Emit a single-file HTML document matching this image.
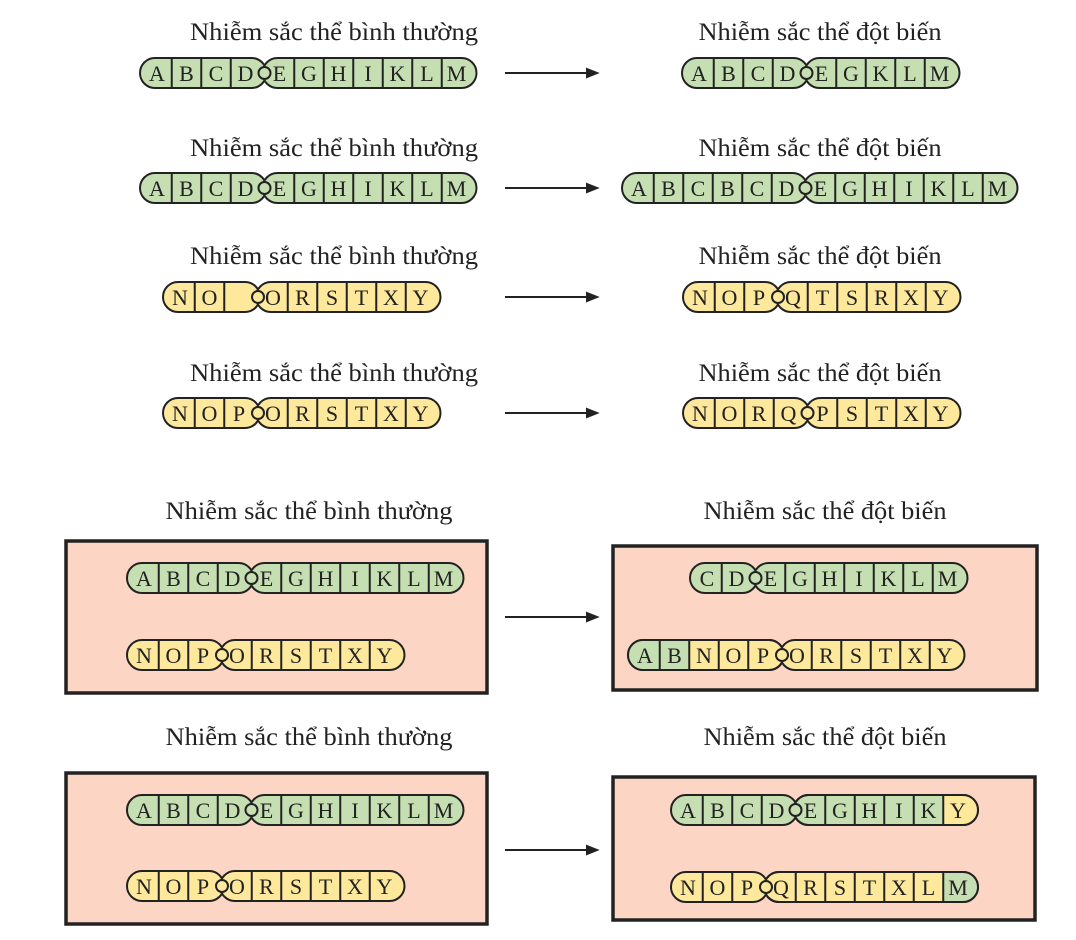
<!DOCTYPE html>
<html><head><meta charset="utf-8"><style>
html,body{margin:0;padding:0;background:#fff}
svg{display:block}
text{font-family:"Liberation Serif",serif;fill:#222}
.t{font-size:25px;text-anchor:middle}
.l{font-size:22px;text-anchor:middle}
.g{fill:#c6dfb2;stroke:#222;stroke-width:2}
.y{fill:#fde89b;stroke:#222;stroke-width:2}
.gn{fill:#c6dfb2}
.yn{fill:#fde89b}
.d{stroke:#222;stroke-width:2}
.box{fill:#fcd5c4;stroke:#222;stroke-width:3.5}
</style></head><body>
<svg width="1076" height="940" viewBox="0 0 1076 940" xmlns="http://www.w3.org/2000/svg">
<!-- titles -->
<text class="t" x="334" y="40" textLength="288" lengthAdjust="spacingAndGlyphs">Nhiễm sắc thể bình thường</text>
<text class="t" x="820" y="40" textLength="243" lengthAdjust="spacingAndGlyphs">Nhiễm sắc thể đột biến</text>
<text class="t" x="334" y="156" textLength="288" lengthAdjust="spacingAndGlyphs">Nhiễm sắc thể bình thường</text>
<text class="t" x="820" y="156" textLength="243" lengthAdjust="spacingAndGlyphs">Nhiễm sắc thể đột biến</text>
<text class="t" x="334" y="264" textLength="288" lengthAdjust="spacingAndGlyphs">Nhiễm sắc thể bình thường</text>
<text class="t" x="820" y="264" textLength="243" lengthAdjust="spacingAndGlyphs">Nhiễm sắc thể đột biến</text>
<text class="t" x="334" y="381" textLength="288" lengthAdjust="spacingAndGlyphs">Nhiễm sắc thể bình thường</text>
<text class="t" x="820" y="381" textLength="243" lengthAdjust="spacingAndGlyphs">Nhiễm sắc thể đột biến</text>
<text class="t" x="309" y="519" textLength="287" lengthAdjust="spacingAndGlyphs">Nhiễm sắc thể bình thường</text>
<text class="t" x="825" y="519" textLength="243" lengthAdjust="spacingAndGlyphs">Nhiễm sắc thể đột biến</text>
<text class="t" x="309" y="745" textLength="287" lengthAdjust="spacingAndGlyphs">Nhiễm sắc thể bình thường</text>
<text class="t" x="825" y="745" textLength="243" lengthAdjust="spacingAndGlyphs">Nhiễm sắc thể đột biến</text>

<!-- boxes -->
<rect class="box" x="66" y="541" width="421" height="152"/>
<rect class="box" x="613" y="546" width="424" height="144"/>
<rect class="box" x="66" y="773" width="421" height="151"/>
<rect class="box" x="613" y="777" width="422" height="143"/>

<!-- arrows -->
<g stroke="#222" stroke-width="2" fill="#222">
<line x1="505" y1="73" x2="590" y2="73"/><polygon points="587,69 597,73 587,77"/>
<line x1="505" y1="188" x2="590" y2="188"/><polygon points="587,184 597,188 587,192"/>
<line x1="505" y1="297" x2="590" y2="297"/><polygon points="587,293 597,297 587,301"/>
<line x1="505" y1="413" x2="590" y2="413"/><polygon points="587,409 597,413 587,417"/>
<line x1="505" y1="617" x2="590" y2="617"/><polygon points="587,613 597,617 587,621"/>
<line x1="505" y1="850" x2="590" y2="850"/><polygon points="587,846 597,850 587,854"/>
</g>

<!-- Chromosome type A: ABCD|EGHIKLM -->
<g transform="translate(140,73)">
<rect class="g" x="0" y="-15" width="126.5" height="30" rx="15"/>
<rect class="g" x="122.5" y="-15" width="214" height="30" rx="15"/>
<g class="d"><line x1="31.75" y1="-15" x2="31.75" y2="15"/><line x1="61.25" y1="-15" x2="61.25" y2="15"/><line x1="90.75" y1="-15" x2="90.75" y2="15"/><line x1="154.25" y1="-15" x2="154.25" y2="15"/><line x1="183.75" y1="-15" x2="183.75" y2="15"/><line x1="213.25" y1="-15" x2="213.25" y2="15"/><line x1="242.75" y1="-15" x2="242.75" y2="15"/><line x1="272.25" y1="-15" x2="272.25" y2="15"/><line x1="301.75" y1="-15" x2="301.75" y2="15"/></g>
<circle class="g" cx="124.5" cy="0" r="6"/>
<text class="l" x="17" y="8">A</text><text class="l" x="46.5" y="8">B</text><text class="l" x="76" y="8">C</text><text class="l" x="105.5" y="8">D</text><text class="l" x="139.5" y="8">E</text><text class="l" x="169" y="8">G</text><text class="l" x="198.5" y="8">H</text><text class="l" x="228" y="8">I</text><text class="l" x="257.5" y="8">K</text><text class="l" x="287" y="8">L</text><text class="l" x="316.5" y="8">M</text>
</g>
<g transform="translate(140,188)">
<rect class="g" x="0" y="-15" width="126.5" height="30" rx="15"/>
<rect class="g" x="122.5" y="-15" width="214" height="30" rx="15"/>
<g class="d"><line x1="31.75" y1="-15" x2="31.75" y2="15"/><line x1="61.25" y1="-15" x2="61.25" y2="15"/><line x1="90.75" y1="-15" x2="90.75" y2="15"/><line x1="154.25" y1="-15" x2="154.25" y2="15"/><line x1="183.75" y1="-15" x2="183.75" y2="15"/><line x1="213.25" y1="-15" x2="213.25" y2="15"/><line x1="242.75" y1="-15" x2="242.75" y2="15"/><line x1="272.25" y1="-15" x2="272.25" y2="15"/><line x1="301.75" y1="-15" x2="301.75" y2="15"/></g>
<circle class="g" cx="124.5" cy="0" r="6"/>
<text class="l" x="17" y="8">A</text><text class="l" x="46.5" y="8">B</text><text class="l" x="76" y="8">C</text><text class="l" x="105.5" y="8">D</text><text class="l" x="139.5" y="8">E</text><text class="l" x="169" y="8">G</text><text class="l" x="198.5" y="8">H</text><text class="l" x="228" y="8">I</text><text class="l" x="257.5" y="8">K</text><text class="l" x="287" y="8">L</text><text class="l" x="316.5" y="8">M</text>
</g>
<g transform="translate(127,578)">
<rect class="g" x="0" y="-15" width="126.5" height="30" rx="15"/>
<rect class="g" x="122.5" y="-15" width="214" height="30" rx="15"/>
<g class="d"><line x1="31.75" y1="-15" x2="31.75" y2="15"/><line x1="61.25" y1="-15" x2="61.25" y2="15"/><line x1="90.75" y1="-15" x2="90.75" y2="15"/><line x1="154.25" y1="-15" x2="154.25" y2="15"/><line x1="183.75" y1="-15" x2="183.75" y2="15"/><line x1="213.25" y1="-15" x2="213.25" y2="15"/><line x1="242.75" y1="-15" x2="242.75" y2="15"/><line x1="272.25" y1="-15" x2="272.25" y2="15"/><line x1="301.75" y1="-15" x2="301.75" y2="15"/></g>
<circle class="g" cx="124.5" cy="0" r="6"/>
<text class="l" x="17" y="8">A</text><text class="l" x="46.5" y="8">B</text><text class="l" x="76" y="8">C</text><text class="l" x="105.5" y="8">D</text><text class="l" x="139.5" y="8">E</text><text class="l" x="169" y="8">G</text><text class="l" x="198.5" y="8">H</text><text class="l" x="228" y="8">I</text><text class="l" x="257.5" y="8">K</text><text class="l" x="287" y="8">L</text><text class="l" x="316.5" y="8">M</text>
</g>
<g transform="translate(127,810)">
<rect class="g" x="0" y="-15" width="126.5" height="30" rx="15"/>
<rect class="g" x="122.5" y="-15" width="214" height="30" rx="15"/>
<g class="d"><line x1="31.75" y1="-15" x2="31.75" y2="15"/><line x1="61.25" y1="-15" x2="61.25" y2="15"/><line x1="90.75" y1="-15" x2="90.75" y2="15"/><line x1="154.25" y1="-15" x2="154.25" y2="15"/><line x1="183.75" y1="-15" x2="183.75" y2="15"/><line x1="213.25" y1="-15" x2="213.25" y2="15"/><line x1="242.75" y1="-15" x2="242.75" y2="15"/><line x1="272.25" y1="-15" x2="272.25" y2="15"/><line x1="301.75" y1="-15" x2="301.75" y2="15"/></g>
<circle class="g" cx="124.5" cy="0" r="6"/>
<text class="l" x="17" y="8">A</text><text class="l" x="46.5" y="8">B</text><text class="l" x="76" y="8">C</text><text class="l" x="105.5" y="8">D</text><text class="l" x="139.5" y="8">E</text><text class="l" x="169" y="8">G</text><text class="l" x="198.5" y="8">H</text><text class="l" x="228" y="8">I</text><text class="l" x="257.5" y="8">K</text><text class="l" x="287" y="8">L</text><text class="l" x="316.5" y="8">M</text>
</g>

<!-- Row1 right: ABCD|EGKLM -->
<g transform="translate(682,73)">
<rect class="g" x="0" y="-15" width="126.5" height="30" rx="15"/>
<rect class="g" x="122.5" y="-15" width="155" height="30" rx="15"/>
<g class="d"><line x1="31.75" y1="-15" x2="31.75" y2="15"/><line x1="61.25" y1="-15" x2="61.25" y2="15"/><line x1="90.75" y1="-15" x2="90.75" y2="15"/><line x1="154.25" y1="-15" x2="154.25" y2="15"/><line x1="183.75" y1="-15" x2="183.75" y2="15"/><line x1="213.25" y1="-15" x2="213.25" y2="15"/><line x1="242.75" y1="-15" x2="242.75" y2="15"/></g>
<circle class="g" cx="124.5" cy="0" r="6"/>
<text class="l" x="17" y="8">A</text><text class="l" x="46.5" y="8">B</text><text class="l" x="76" y="8">C</text><text class="l" x="105.5" y="8">D</text><text class="l" x="139.5" y="8">E</text><text class="l" x="169" y="8">G</text><text class="l" x="198.5" y="8">K</text><text class="l" x="228" y="8">L</text><text class="l" x="257.5" y="8">M</text>
</g>

<!-- Row2 right: ABCBCD|EGHIKLM -->
<g transform="translate(622,188)">
<rect class="g" x="0" y="-15" width="185.5" height="30" rx="15"/>
<rect class="g" x="181.5" y="-15" width="214" height="30" rx="15"/>
<g class="d"><line x1="31.75" y1="-15" x2="31.75" y2="15"/><line x1="61.25" y1="-15" x2="61.25" y2="15"/><line x1="90.75" y1="-15" x2="90.75" y2="15"/><line x1="120.25" y1="-15" x2="120.25" y2="15"/><line x1="149.75" y1="-15" x2="149.75" y2="15"/><line x1="213.25" y1="-15" x2="213.25" y2="15"/><line x1="242.75" y1="-15" x2="242.75" y2="15"/><line x1="272.25" y1="-15" x2="272.25" y2="15"/><line x1="301.75" y1="-15" x2="301.75" y2="15"/><line x1="331.25" y1="-15" x2="331.25" y2="15"/><line x1="360.75" y1="-15" x2="360.75" y2="15"/></g>
<circle class="g" cx="183.5" cy="0" r="6"/>
<text class="l" x="17" y="8">A</text><text class="l" x="46.5" y="8">B</text><text class="l" x="76" y="8">C</text><text class="l" x="105.5" y="8">B</text><text class="l" x="135" y="8">C</text><text class="l" x="164.5" y="8">D</text><text class="l" x="198.5" y="8">E</text><text class="l" x="228" y="8">G</text><text class="l" x="257.5" y="8">H</text><text class="l" x="287" y="8">I</text><text class="l" x="316.5" y="8">K</text><text class="l" x="346" y="8">L</text><text class="l" x="375.5" y="8">M</text>
</g>

<!-- Row3 left: NO_|ORSTXY -->
<g transform="translate(163,297)">
<rect class="y" x="0" y="-15" width="97" height="30" rx="15"/>
<rect class="y" x="93" y="-15" width="184.5" height="30" rx="15"/>
<g class="d"><line x1="31.75" y1="-15" x2="31.75" y2="15"/><line x1="61.25" y1="-15" x2="61.25" y2="15"/><line x1="124.75" y1="-15" x2="124.75" y2="15"/><line x1="154.25" y1="-15" x2="154.25" y2="15"/><line x1="183.75" y1="-15" x2="183.75" y2="15"/><line x1="213.25" y1="-15" x2="213.25" y2="15"/><line x1="242.75" y1="-15" x2="242.75" y2="15"/></g>
<circle class="y" cx="95" cy="0" r="6"/>
<text class="l" x="17" y="8">N</text><text class="l" x="46.5" y="8">O</text><text class="l" x="110" y="8">O</text><text class="l" x="139.5" y="8">R</text><text class="l" x="169" y="8">S</text><text class="l" x="198.5" y="8">T</text><text class="l" x="228" y="8">X</text><text class="l" x="257.5" y="8">Y</text>
</g>

<!-- Row3 right: NOP|QTSRXY -->
<g transform="translate(683,297)">
<rect class="y" x="0" y="-15" width="97" height="30" rx="15"/>
<rect class="y" x="93" y="-15" width="184.5" height="30" rx="15"/>
<g class="d"><line x1="31.75" y1="-15" x2="31.75" y2="15"/><line x1="61.25" y1="-15" x2="61.25" y2="15"/><line x1="124.75" y1="-15" x2="124.75" y2="15"/><line x1="154.25" y1="-15" x2="154.25" y2="15"/><line x1="183.75" y1="-15" x2="183.75" y2="15"/><line x1="213.25" y1="-15" x2="213.25" y2="15"/><line x1="242.75" y1="-15" x2="242.75" y2="15"/></g>
<circle class="y" cx="95" cy="0" r="6"/>
<text class="l" x="17" y="8">N</text><text class="l" x="46.5" y="8">O</text><text class="l" x="76" y="8">P</text><text class="l" x="110" y="8">Q</text><text class="l" x="139.5" y="8">T</text><text class="l" x="169" y="8">S</text><text class="l" x="198.5" y="8">R</text><text class="l" x="228" y="8">X</text><text class="l" x="257.5" y="8">Y</text>
</g>

<!-- NOP|ORSTXY copies -->
<g transform="translate(163,413)">
<rect class="y" x="0" y="-15" width="97" height="30" rx="15"/>
<rect class="y" x="93" y="-15" width="184.5" height="30" rx="15"/>
<g class="d"><line x1="31.75" y1="-15" x2="31.75" y2="15"/><line x1="61.25" y1="-15" x2="61.25" y2="15"/><line x1="124.75" y1="-15" x2="124.75" y2="15"/><line x1="154.25" y1="-15" x2="154.25" y2="15"/><line x1="183.75" y1="-15" x2="183.75" y2="15"/><line x1="213.25" y1="-15" x2="213.25" y2="15"/><line x1="242.75" y1="-15" x2="242.75" y2="15"/></g>
<circle class="y" cx="95" cy="0" r="6"/>
<text class="l" x="17" y="8">N</text><text class="l" x="46.5" y="8">O</text><text class="l" x="76" y="8">P</text><text class="l" x="110" y="8">O</text><text class="l" x="139.5" y="8">R</text><text class="l" x="169" y="8">S</text><text class="l" x="198.5" y="8">T</text><text class="l" x="228" y="8">X</text><text class="l" x="257.5" y="8">Y</text>
</g>
<g transform="translate(127,655)">
<rect class="y" x="0" y="-15" width="97" height="30" rx="15"/>
<rect class="y" x="93" y="-15" width="184.5" height="30" rx="15"/>
<g class="d"><line x1="31.75" y1="-15" x2="31.75" y2="15"/><line x1="61.25" y1="-15" x2="61.25" y2="15"/><line x1="124.75" y1="-15" x2="124.75" y2="15"/><line x1="154.25" y1="-15" x2="154.25" y2="15"/><line x1="183.75" y1="-15" x2="183.75" y2="15"/><line x1="213.25" y1="-15" x2="213.25" y2="15"/><line x1="242.75" y1="-15" x2="242.75" y2="15"/></g>
<circle class="y" cx="95" cy="0" r="6"/>
<text class="l" x="17" y="8">N</text><text class="l" x="46.5" y="8">O</text><text class="l" x="76" y="8">P</text><text class="l" x="110" y="8">O</text><text class="l" x="139.5" y="8">R</text><text class="l" x="169" y="8">S</text><text class="l" x="198.5" y="8">T</text><text class="l" x="228" y="8">X</text><text class="l" x="257.5" y="8">Y</text>
</g>
<g transform="translate(127,886)">
<rect class="y" x="0" y="-15" width="97" height="30" rx="15"/>
<rect class="y" x="93" y="-15" width="184.5" height="30" rx="15"/>
<g class="d"><line x1="31.75" y1="-15" x2="31.75" y2="15"/><line x1="61.25" y1="-15" x2="61.25" y2="15"/><line x1="124.75" y1="-15" x2="124.75" y2="15"/><line x1="154.25" y1="-15" x2="154.25" y2="15"/><line x1="183.75" y1="-15" x2="183.75" y2="15"/><line x1="213.25" y1="-15" x2="213.25" y2="15"/><line x1="242.75" y1="-15" x2="242.75" y2="15"/></g>
<circle class="y" cx="95" cy="0" r="6"/>
<text class="l" x="17" y="8">N</text><text class="l" x="46.5" y="8">O</text><text class="l" x="76" y="8">P</text><text class="l" x="110" y="8">O</text><text class="l" x="139.5" y="8">R</text><text class="l" x="169" y="8">S</text><text class="l" x="198.5" y="8">T</text><text class="l" x="228" y="8">X</text><text class="l" x="257.5" y="8">Y</text>
</g>

<!-- Row4 right: NORQ|PSTXY -->
<g transform="translate(683,413)">
<rect class="y" x="0" y="-15" width="126.5" height="30" rx="15"/>
<rect class="y" x="122.5" y="-15" width="155" height="30" rx="15"/>
<g class="d"><line x1="31.75" y1="-15" x2="31.75" y2="15"/><line x1="61.25" y1="-15" x2="61.25" y2="15"/><line x1="90.75" y1="-15" x2="90.75" y2="15"/><line x1="154.25" y1="-15" x2="154.25" y2="15"/><line x1="183.75" y1="-15" x2="183.75" y2="15"/><line x1="213.25" y1="-15" x2="213.25" y2="15"/><line x1="242.75" y1="-15" x2="242.75" y2="15"/></g>
<circle class="y" cx="124.5" cy="0" r="6"/>
<text class="l" x="17" y="8">N</text><text class="l" x="46.5" y="8">O</text><text class="l" x="76" y="8">R</text><text class="l" x="105.5" y="8">Q</text><text class="l" x="139.5" y="8">P</text><text class="l" x="169" y="8">S</text><text class="l" x="198.5" y="8">T</text><text class="l" x="228" y="8">X</text><text class="l" x="257.5" y="8">Y</text>
</g>

<!-- Box1 right top: CD|EGHIKLM -->
<g transform="translate(690,578)">
<rect class="g" x="0" y="-15" width="67.5" height="30" rx="15"/>
<rect class="g" x="63.5" y="-15" width="214" height="30" rx="15"/>
<g class="d"><line x1="31.75" y1="-15" x2="31.75" y2="15"/><line x1="95.25" y1="-15" x2="95.25" y2="15"/><line x1="124.75" y1="-15" x2="124.75" y2="15"/><line x1="154.25" y1="-15" x2="154.25" y2="15"/><line x1="183.75" y1="-15" x2="183.75" y2="15"/><line x1="213.25" y1="-15" x2="213.25" y2="15"/><line x1="242.75" y1="-15" x2="242.75" y2="15"/></g>
<circle class="g" cx="65.5" cy="0" r="6"/>
<text class="l" x="17" y="8">C</text><text class="l" x="46.5" y="8">D</text><text class="l" x="80.5" y="8">E</text><text class="l" x="110" y="8">G</text><text class="l" x="139.5" y="8">H</text><text class="l" x="169" y="8">I</text><text class="l" x="198.5" y="8">K</text><text class="l" x="228" y="8">L</text><text class="l" x="257.5" y="8">M</text>
</g>

<!-- Box1 right bottom: AB NOP|ORSTXY -->
<g transform="translate(628,655)">
<rect class="y" x="0" y="-15" width="156" height="30" rx="15"/>
<path class="gn" d="M61.25,-15 H15 A15,15 0 0 0 15,15 H61.25 Z"/>
<rect fill="none" stroke="#222" stroke-width="2" x="0" y="-15" width="156" height="30" rx="15"/>
<rect class="y" x="152" y="-15" width="184.5" height="30" rx="15"/>
<g class="d"><line x1="31.75" y1="-15" x2="31.75" y2="15"/><line x1="61.25" y1="-15" x2="61.25" y2="15"/><line x1="90.75" y1="-15" x2="90.75" y2="15"/><line x1="120.25" y1="-15" x2="120.25" y2="15"/><line x1="183.75" y1="-15" x2="183.75" y2="15"/><line x1="213.25" y1="-15" x2="213.25" y2="15"/><line x1="242.75" y1="-15" x2="242.75" y2="15"/><line x1="272.25" y1="-15" x2="272.25" y2="15"/><line x1="301.75" y1="-15" x2="301.75" y2="15"/></g>
<circle class="y" cx="154" cy="0" r="6"/>
<text class="l" x="17" y="8">A</text><text class="l" x="46.5" y="8">B</text><text class="l" x="76" y="8">N</text><text class="l" x="105.5" y="8">O</text><text class="l" x="135" y="8">P</text><text class="l" x="169" y="8">O</text><text class="l" x="198.5" y="8">R</text><text class="l" x="228" y="8">S</text><text class="l" x="257.5" y="8">T</text><text class="l" x="287" y="8">X</text><text class="l" x="316.5" y="8">Y</text>
</g>

<!-- Box2 right top: ABCD|EGHIKY -->
<g transform="translate(671,810)">
<rect class="g" x="0" y="-15" width="126.5" height="30" rx="15"/>
<rect class="g" x="122.5" y="-15" width="184.5" height="30" rx="15"/>
<path class="yn" d="M272.25,-15 H292 A15,15 0 0 1 292,15 H272.25 Z"/>
<rect fill="none" stroke="#222" stroke-width="2" x="122.5" y="-15" width="184.5" height="30" rx="15"/>
<g class="d"><line x1="31.75" y1="-15" x2="31.75" y2="15"/><line x1="61.25" y1="-15" x2="61.25" y2="15"/><line x1="90.75" y1="-15" x2="90.75" y2="15"/><line x1="154.25" y1="-15" x2="154.25" y2="15"/><line x1="183.75" y1="-15" x2="183.75" y2="15"/><line x1="213.25" y1="-15" x2="213.25" y2="15"/><line x1="242.75" y1="-15" x2="242.75" y2="15"/><line x1="272.25" y1="-15" x2="272.25" y2="15"/></g>
<circle class="g" cx="124.5" cy="0" r="6"/>
<text class="l" x="17" y="8">A</text><text class="l" x="46.5" y="8">B</text><text class="l" x="76" y="8">C</text><text class="l" x="105.5" y="8">D</text><text class="l" x="139.5" y="8">E</text><text class="l" x="169" y="8">G</text><text class="l" x="198.5" y="8">H</text><text class="l" x="228" y="8">I</text><text class="l" x="257.5" y="8">K</text><text class="l" x="287" y="8">Y</text>
</g>

<!-- Box2 right bottom: NOP|QRSTXLM -->
<g transform="translate(671,887)">
<rect class="y" x="0" y="-15" width="97" height="30" rx="15"/>
<rect class="y" x="93" y="-15" width="214" height="30" rx="15"/>
<path class="gn" d="M272.25,-15 H292 A15,15 0 0 1 292,15 H272.25 Z"/>
<rect fill="none" stroke="#222" stroke-width="2" x="93" y="-15" width="214" height="30" rx="15"/>
<g class="d"><line x1="31.75" y1="-15" x2="31.75" y2="15"/><line x1="61.25" y1="-15" x2="61.25" y2="15"/><line x1="124.75" y1="-15" x2="124.75" y2="15"/><line x1="154.25" y1="-15" x2="154.25" y2="15"/><line x1="183.75" y1="-15" x2="183.75" y2="15"/><line x1="213.25" y1="-15" x2="213.25" y2="15"/><line x1="242.75" y1="-15" x2="242.75" y2="15"/><line x1="272.25" y1="-15" x2="272.25" y2="15"/></g>
<circle class="y" cx="95" cy="0" r="6"/>
<text class="l" x="17" y="8">N</text><text class="l" x="46.5" y="8">O</text><text class="l" x="76" y="8">P</text><text class="l" x="110" y="8">Q</text><text class="l" x="139.5" y="8">R</text><text class="l" x="169" y="8">S</text><text class="l" x="198.5" y="8">T</text><text class="l" x="228" y="8">X</text><text class="l" x="257.5" y="8">L</text><text class="l" x="287" y="8">M</text>
</g>
</svg>
</body></html>
